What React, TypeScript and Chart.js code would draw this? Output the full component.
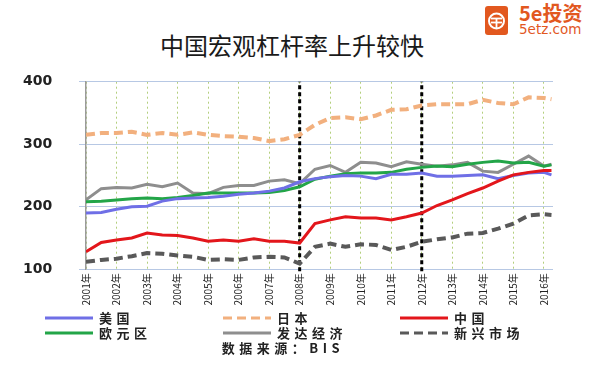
import React, { useEffect, useRef } from 'react';
import { Chart, registerables } from 'chart.js';
Chart.register(...registerables);

// ---- data ----
const YEARS = [2001, 2001.5, 2002, 2002.5, 2003, 2003.5, 2004, 2004.5, 2005, 2005.5, 2006, 2006.5, 2007, 2007.5, 2008, 2008.5, 2009, 2009.5, 2010, 2010.5, 2011, 2011.5, 2012, 2012.5, 2013, 2013.5, 2014, 2014.5, 2015, 2015.5, 2016, 2016.25];
const TICK_YEARS = [2001, 2002, 2003, 2004, 2005, 2006, 2007, 2008, 2009, 2010, 2011, 2012, 2013, 2014, 2015, 2016];
const DIVIDER_YEARS = [2008, 2012];
const Y_TICKS = [100, 200, 300, 400];

const USA = [190, 191, 196, 200, 201, 209, 213, 214, 215, 217, 220, 222, 225, 230, 240, 245, 248, 250, 249, 245, 252, 252, 254, 249, 249, 250, 251, 245, 250, 254, 255, 251];
const JAPAN = [315, 318, 318, 320, 315, 318, 315, 319, 315, 313, 312, 310, 305, 308, 315, 331, 342, 343, 340, 346, 355, 356, 362, 364, 364, 364, 371, 366, 364, 375, 374, 372];
const CHINA = [128, 143, 147, 150, 158, 155, 154, 150, 145, 147, 145, 149, 145, 145, 142, 173, 179, 184, 182, 182, 179, 184, 190, 202, 211, 221, 230, 241, 251, 255, 258, 258];
const EURO = [208, 209, 211, 213, 214, 213, 215, 218, 222, 222, 222, 222, 223, 226, 232, 244, 249, 253, 254, 254, 255, 260, 263, 265, 264, 268, 271, 273, 270, 271, 265, 267];
const DEVELOPED = [211, 229, 231, 230, 236, 232, 238, 222, 221, 231, 234, 234, 241, 243, 237, 260, 266, 255, 271, 270, 264, 272, 268, 265, 267, 271, 257, 255, 268, 281, 265, 268];
const EMERGING = [112, 115, 117, 121, 126, 125, 122, 120, 115, 116, 115, 119, 120, 119, 109, 136, 141, 136, 140, 139, 131, 136, 144, 148, 151, 157, 158, 165, 173, 186, 188, 187];

const SERIES_NAMES = ['美国', '日本', '中国', '欧元区', '发达经济', '新兴市场'];
const SERIES_VALUES = [USA, JAPAN, CHINA, EURO, DEVELOPED, EMERGING];

const TITLE = '中国宏观杠杆率上升较快';
const SOURCE = '数据来源：BIS';

// ---- styles ----
const STYLES = [
  { color: '#6F6FE6', width: 3, dash: [] as number[] },
  { color: '#F2B07E', width: 4, dash: [9, 5] },
  { color: '#E3161B', width: 3, dash: [] as number[] },
  { color: '#23A548', width: 3, dash: [] as number[] },
  { color: '#8E8E8E', width: 3, dash: [] as number[] },
  { color: '#595959', width: 4, dash: [9, 5] },
];
const LEGEND_POS = [
  { x: 45, y: 318 }, { x: 223, y: 318 }, { x: 400, y: 318 },
  { x: 45, y: 333 }, { x: 223, y: 333 }, { x: 400, y: 333 },
];
const CJK = '"Noto Sans CJK SC", "DejaVu Sans", sans-serif';

export default function App() {
  const ref = useRef<HTMLCanvasElement | null>(null);
  useEffect(() => {
    if (!ref.current) return;
    const datasets: any[] = SERIES_VALUES.map((vals, i) => ({
      label: SERIES_NAMES[i],
      data: YEARS.map((x, j) => ({ x, y: vals[j] })),
      borderColor: STYLES[i].color,
      borderWidth: STYLES[i].width,
      borderDash: STYLES[i].dash,
      pointRadius: 0,
      tension: 0,
      fill: false,
    }));
    const ordered = [datasets[2], datasets[5], datasets[0], datasets[3], datasets[4], datasets[1]];
    DIVIDER_YEARS.forEach((yr) => {
      ordered.push({
        label: 'div' + yr,
        data: [{ x: yr, y: 97 }, { x: yr, y: 400 }],
        borderColor: '#000',
        borderWidth: 3,
        borderDash: [4, 3],
        pointRadius: 0,
        clip: false,
      });
    });
    const chart = new Chart(ref.current, {
      type: 'line',
      data: { datasets: ordered },
      options: {
        animation: false,
        responsive: false,
        layout: { padding: { top: 21.7, right: 39, left: 23, bottom: 0 } },
        plugins: { legend: { display: false }, tooltip: { enabled: false } },
        scales: {
          x: {
            type: 'linear',
            min: 2001,
            max: 2016.3,
            afterBuildTicks: (s: any) => { s.ticks = TICK_YEARS.map((v) => ({ value: v })); },
            afterFit: (s: any) => { s.height = 50.7; },
            ticks: {
              callback: (v: any) => v + '年',
              minRotation: 90,
              maxRotation: 90,
              autoSkip: false,
              padding: 4,
              color: '#222',
              font: { size: 10, family: CJK },
            },
            grid: { color: '#B3CF7C', lineWidth: 1, drawTicks: false },
            border: { display: false, dash: [2, 3] },
          },
          y: {
            min: 100,
            max: 400,
            afterBuildTicks: (s: any) => { s.ticks = Y_TICKS.map((v) => ({ value: v })); },
            afterFit: (s: any) => { s.width = 63; },
            ticks: {
              padding: 0,
              crossAlign: 'far',
              color: '#222',
              font: { size: 14, weight: 'bold', family: '"DejaVu Sans", sans-serif' },
            },
            grid: { color: '#B7C8E4', lineWidth: 1, tickLength: 7, drawTicks: true },
            border: { color: '#9A9A9A', width: 1.5 },
          },
        },
      } as any,
    });
    return () => chart.destroy();
  }, []);

  return (
    <div style={{ position: 'fixed', left: 0, top: 0, width: 592, height: 377, background: '#fff', overflow: 'hidden' }}>
      <div style={{ position: 'absolute', left: 0, top: 30, width: 584, textAlign: 'center', fontFamily: CJK, fontSize: 24, lineHeight: '30px', color: '#1a1a1a' }}>
        {TITLE}
      </div>
      {/* logo */}
      <div style={{ position: 'absolute', left: 485, top: 6, width: 23, height: 29, background: '#E2581F', borderRadius: 3 }}>
        <svg width="23" height="29" style={{ display: 'block' }}>
          <circle cx="11.5" cy="15" r="7.5" fill="none" stroke="#fff" strokeWidth="2" />
          <line x1="6" y1="12.5" x2="17" y2="12.5" stroke="#fff" strokeWidth="1.8" />
          <line x1="6" y1="16.5" x2="17" y2="16.5" stroke="#fff" strokeWidth="1.8" />
          <line x1="11.5" y1="12.5" x2="11.5" y2="22" stroke="#fff" strokeWidth="1.8" />
        </svg>
      </div>
      <div style={{ position: 'absolute', left: 519, top: 2, fontFamily: CJK, fontSize: 20, fontWeight: 'bold', color: '#E2581F', lineHeight: '22px', whiteSpace: 'nowrap' }}>5e投资</div>
      <div style={{ position: 'absolute', left: 519, top: 22, fontFamily: '"DejaVu Sans", sans-serif', fontSize: 13.5, color: '#E2581F', lineHeight: '15px', whiteSpace: 'nowrap' }}>5etz.com</div>

      <div style={{ position: 'absolute', left: 0, top: 60, width: 592, height: 260 }}>
        <canvas ref={ref} width={592} height={260} style={{ display: 'block', width: 592, height: 260 }} />
      </div>

      {SERIES_NAMES.map((name, i) => (
        <div key={name} style={{ position: 'absolute', left: LEGEND_POS[i].x, top: LEGEND_POS[i].y - 8, height: 16, display: 'flex', alignItems: 'center', whiteSpace: 'nowrap' }}>
          <svg width="48" height="6" style={{ display: 'block' }}>
            <line x1="0" y1="3" x2="48" y2="3" stroke={STYLES[i].color} strokeWidth={3} strokeDasharray={STYLES[i].dash.length ? '9 5' : undefined} />
          </svg>
          <span style={{ marginLeft: 6, fontFamily: CJK, fontSize: 13, fontWeight: 'bold', letterSpacing: 4.5, color: '#222', lineHeight: '16px' }}>{name}</span>
        </div>
      ))}
      <div style={{ position: 'absolute', left: 0, top: 340, width: 566, textAlign: 'center', fontFamily: CJK, fontSize: 13, fontWeight: 'bold', letterSpacing: 4.5, color: '#222', lineHeight: '16px' }}>
        {SOURCE}
      </div>
    </div>
  );
}
